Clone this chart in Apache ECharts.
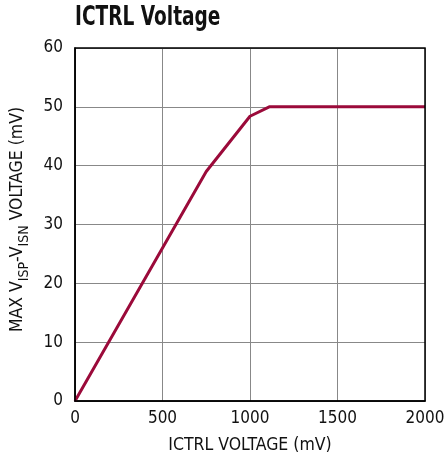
<!DOCTYPE html>
<html><head><meta charset="utf-8">
<script src="https://cdn.jsdelivr.net/npm/echarts@6/dist/echarts.min.js"></script>
<style>html,body{margin:0;padding:0;background:#fff}#c{width:445px;height:462px}</style>
</head><body><div id="c"></div>
<script>
const xValues = [0, 750, 1000, 1110, 2000];
const yValues = [0, 39, 48.4, 50, 50];
const xTicks = [0, 500, 1000, 1500, 2000];
const yTicks = [0, 10, 20, 30, 40, 50, 60];
const title = 'ICTRL Voltage';
const xName = 'ICTRL VOLTAGE (mV)';

const FONT = '"Liberation Sans Narrow", "DejaVu Sans Condensed", "Liberation Sans", sans-serif';
const chart = echarts.init(document.getElementById('c'), null, {renderer: 'canvas'});
chart.setOption({
  animation: false,
  grid: {left: 75, right: 20, top: 48, bottom: 61, outerBoundsMode: 'none', containLabel: false},
  xAxis: {
    type: 'value', min: 0, max: 2000, interval: 500,
    name: xName, nameLocation: 'middle', nameGap: 35,
    nameTextStyle: {fontFamily: FONT, fontSize: 17.5, color: '#111'},
    axisLine: {show: true, lineStyle: {color: '#000', width: 1.5}},
    axisTick: {show: false},
    axisLabel: {fontFamily: FONT, fontSize: 17, color: '#111', margin: 9, formatter: v => String(v)},
    splitLine: {show: true, lineStyle: {color: '#888', width: 1}}
  },
  yAxis: {
    type: 'value', min: 0, max: 60, interval: 10,
    name: '{n|MAX V}{s|ISP}{n|-V}{s|ISN}{n| VOLTAGE (mV)}', nameLocation: 'middle', nameGap: 49, nameRotate: 90,
    nameTextStyle: {
      fontFamily: FONT, fontSize: 17.5, color: '#111', padding: [0, 0, 0, 10],
      rich: {
        n: {fontFamily: FONT, fontSize: 17.5, color: '#111', verticalAlign: 'bottom', lineHeight: 20},
        s: {fontFamily: FONT, fontSize: 14, color: '#111', verticalAlign: 'bottom', lineHeight: 20, padding: [0,0,-5,0]}
      }
    },
    axisLine: {show: true, lineStyle: {color: '#000', width: 1.5}},
    axisTick: {show: false},
    axisLabel: {fontFamily: FONT, fontSize: 17, color: '#111', margin: 12, formatter: v => String(v)},
    splitLine: {show: true, lineStyle: {color: '#888', width: 1}}
  },
  graphic: [
    {type: 'rect', shape: {x: 75, y: 48, width: 350, height: 353}, style: {fill: 'none', stroke: '#000', lineWidth: 1.5}, silent: true, z: 10},
    {type: 'text', x: 75, y: 5, scaleX: 0.86, scaleY: 1.12,
     style: {text: title, font: 'bold 24px "DejaVu Sans Condensed", sans-serif', fill: '#111', verticalAlign: 'top', align: 'left'}}
  ],
  series: [{
    type: 'line', data: xValues.map((x, i) => [x, yValues[i]]),
    showSymbol: false, lineStyle: {color: '#9b0a3a', width: 3}, z: 5
  }]
});
</script></body></html>
